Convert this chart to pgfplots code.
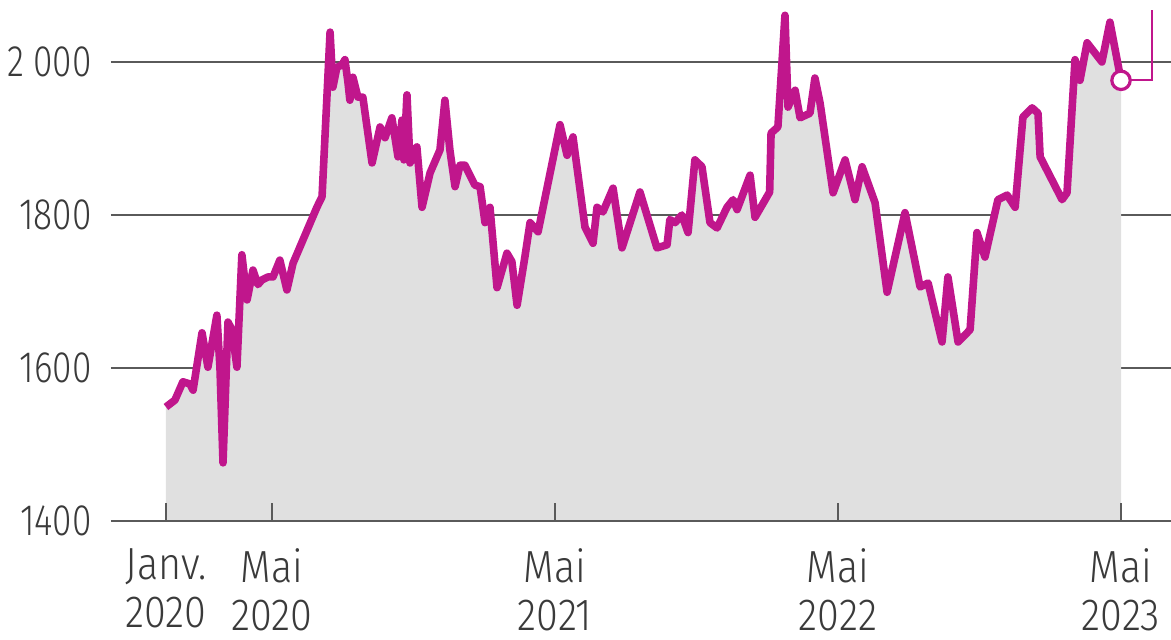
\documentclass[border=0pt]{standalone}
\usepackage{pgfplots}
\pgfplotsset{compat=1.18}
\usepackage{pgfplotstable}
\usepackage{fontspec}
\setmainfont{Fira Sans}[UprightFont={* Light}, FakeStretch=0.88, Numbers=Proportional]
\newfontfamily\ylabfont{Fira Sans}[UprightFont={* Light}, FakeStretch=0.8, Numbers=Proportional]

\definecolor{goldline}{RGB}{192,22,140}
\definecolor{fillgray}{RGB}{224,224,224}
\definecolor{gridc}{RGB}{90,90,90}
\definecolor{textc}{RGB}{58,58,58}

% x = months since January 2020, y = gold price (USD/oz)
\pgfplotstableread{
m     v
0.00  1549
0.38  1558
0.72  1582
1.02  1579
1.15  1571
1.53  1646
1.78  1601
2.16  1669
2.29  1601
2.42  1476
2.63  1660
2.80  1650
3.01  1601
3.22  1748
3.44  1689
3.69  1728
3.90  1709
4.07  1715
4.33  1719
4.54  1719
4.83  1741
5.13  1702
5.39  1737
6.40  1810
6.62  1824
6.96  2039
7.08  1967
7.25  1993
7.46  1996
7.59  2003
7.72  1973
7.80  1950
7.93  1980
8.14  1954
8.35  1954
8.74  1868
9.08  1915
9.29  1901
9.58  1927
9.84  1876
10.01 1924
10.09 1872
10.22 1957
10.35 1868
10.64 1889
10.86 1810
11.20 1855
11.62 1885
11.83 1950
12.04 1885
12.26 1837
12.47 1865
12.68 1865
13.10 1839
13.32 1837
13.53 1790
13.74 1810
14.04 1705
14.46 1750
14.67 1739
14.89 1682
15.22 1745
15.44 1790
15.78 1778
16.71 1918
17.01 1878
17.26 1902
17.77 1784
18.11 1763
18.28 1810
18.53 1804
18.96 1835
19.34 1757
20.10 1830
20.82 1757
21.25 1761
21.37 1794
21.59 1790
21.88 1800
22.14 1777
22.43 1872
22.73 1863
23.07 1790
23.37 1783
23.79 1810
24.05 1820
24.22 1807
24.77 1852
24.98 1797
25.60 1830
25.66 1907
25.95 1915
26.25 2061
26.38 1941
26.68 1963
26.89 1927
27.31 1933
27.52 1979
27.74 1946
28.29 1829
28.80 1872
29.22 1820
29.52 1863
30.07 1816
30.58 1699
31.34 1803
31.98 1706
32.32 1711
32.91 1634
33.16 1719
33.59 1634
34.10 1650
34.39 1777
34.73 1745
35.28 1820
35.67 1826
36.01 1810
36.34 1928
36.73 1940
36.98 1933
37.07 1876
38.00 1820
38.21 1829
38.55 2003
38.76 1976
39.06 2025
39.69 2000
40.03 2052
40.50 1976
}\gold

\begin{document}
\begin{tikzpicture}
\useasboundingbox (-55.5pt,-59.5pt) rectangle (530pt,260.5pt);
\begin{axis}[
  at={(0pt,0pt)}, anchor=south west,
  scale only axis,
  width=530pt, height=260.5pt,
  xmin=-2.33, xmax=42.62,
  ymin=1400, ymax=2081,
  axis on top,
  axis x line*=bottom,
  axis y line*=left,
  y axis line style={draw=none},
  x axis line style={gridc, line width=1.3pt},
  xtick={0,4.5,16.5,28.5,40.5},
  xticklabels={Janv.\\2020, Mai\\2020, Mai\\2021, Mai\\2022, Mai\\2023},
  ytick={1400,1600,1800,2000},
  yticklabels={1400, 1600, 1800, 2\hspace{0.2em}000},
  major tick length=9pt,
  tick align=inside,
  xtick style={gridc, line width=0.8pt},
  ytick style={draw=none},
  every tick label/.append style={text=textc},
  xticklabel style={font=\fontsize{22.5pt}{24pt}\selectfont, align=center, inner sep=0pt, anchor=north, yshift=-13.5pt},
  yticklabel style={font=\ylabfont\fontsize{22pt}{24pt}\selectfont, inner sep=0pt, anchor=east, xshift=-9.5pt},
]
% grid lines, hidden under the grey area
\addplot[gridc, line width=1.3pt] coordinates {(-2.33,1600) (42.62,1600)};
\addplot[gridc, line width=1.3pt] coordinates {(-2.33,1800) (42.62,1800)};
\addplot[gridc, line width=1.3pt] coordinates {(-2.33,2000) (42.62,2000)};

\addplot[fill=fillgray, draw=none] table[x=m, y=v] {\gold} \closedcycle;
\addplot[goldline, line width=3.8pt, line join=round] table[x=m, y=v] {\gold};

\draw[goldline, line width=1pt] (axis cs:40.50,1976) -- (axis cs:41.82,1976) -- (axis cs:41.82,2068);
\addplot[only marks, mark=*, mark size=4.6pt,
  mark options={fill=white, draw=goldline, line width=1.6pt}] coordinates {(40.50,1976)};
\end{axis}
\end{tikzpicture}
\end{document}
